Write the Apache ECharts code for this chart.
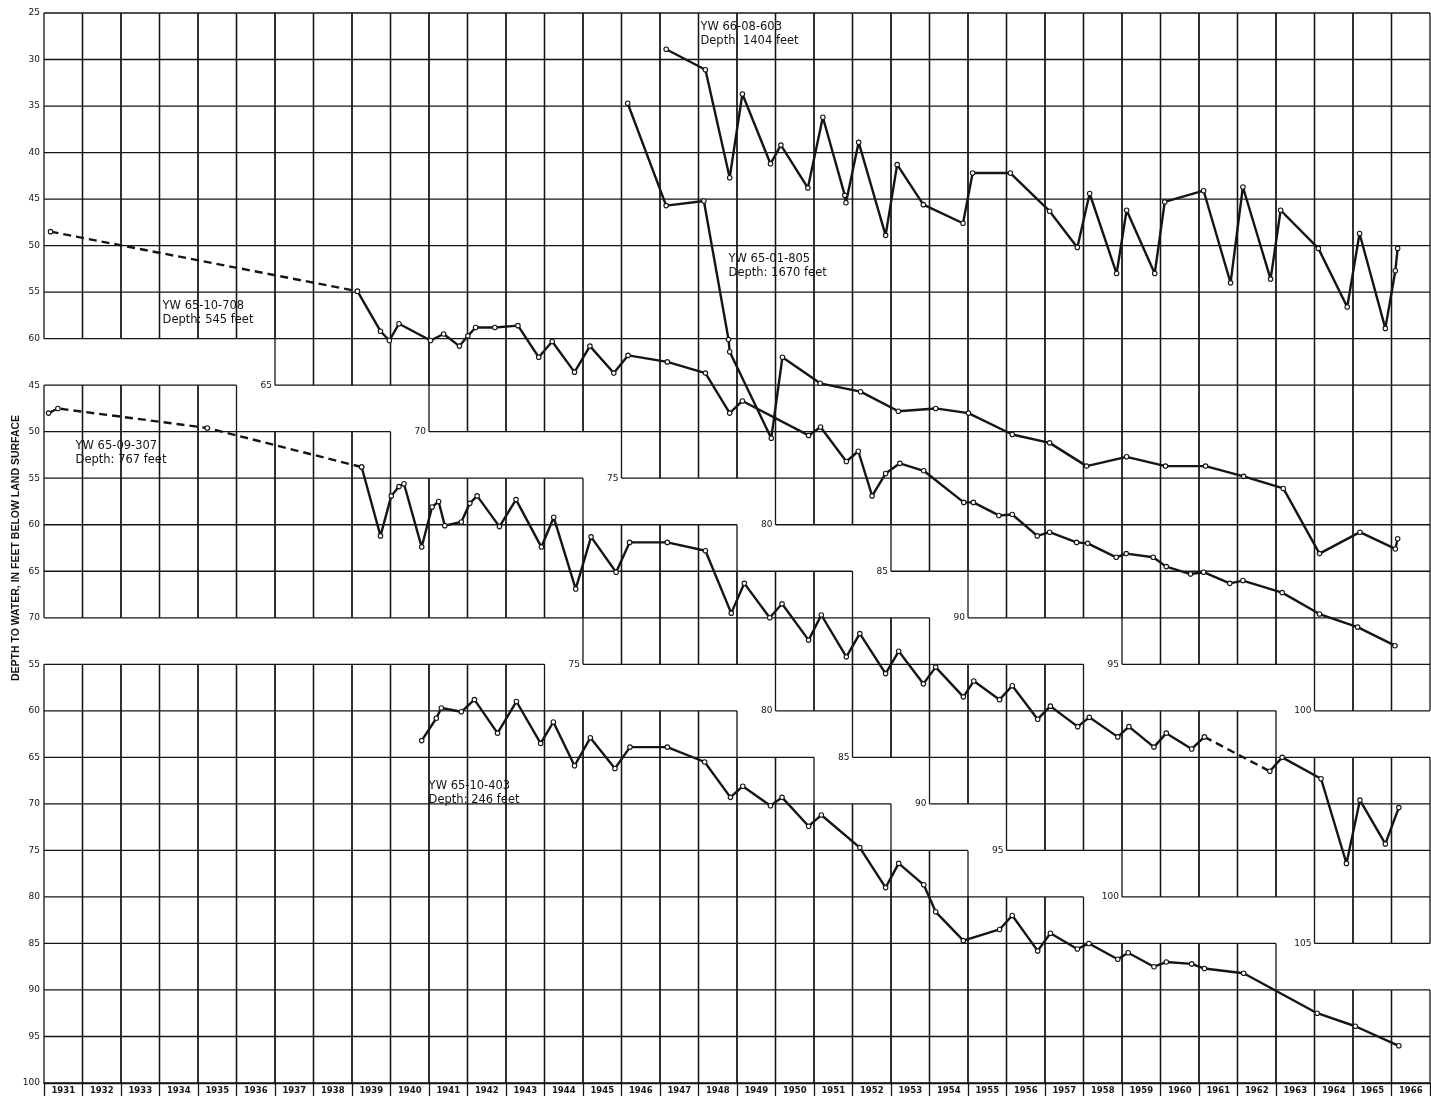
<!DOCTYPE html>
<html><head><meta charset="utf-8">
<script src="https://cdn.jsdelivr.net/npm/echarts@6/dist/echarts.min.js"></script>
<style>html,body{margin:0;padding:0;background:#fff;}#c{width:1431px;height:1096px;}</style>
</head><body><div id="c"></div>
<script>
// ---------------- DATA ----------------
const years = ['1931','1932','1933','1934','1935','1936','1937','1938','1939','1940','1941','1942',
  '1943','1944','1945','1946','1947','1948','1949','1950','1951','1952','1953','1954','1955','1956',
  '1957','1958','1959','1960','1961','1962','1963','1964','1965','1966'];

// Staircase of the three grid blocks (row index of boundary, per year column)
const aBottom = [7,7,7,7,7,7,8,8,8,8,9,9,9,9,9,10,10,10,10,11,11,11,12,12,13,13,13,13,14,14,14,14,14,15,15,15];
const bTop    = [8,8,8,8,8,9,9,9,9,10,10,10,10,10,11,11,11,11,12,12,12,13,13,14,14,14,14,15,15,15,15,15,16,16,16,16];
const bBottom = [13,13,13,13,13,13,13,13,13,13,13,13,13,13,14,14,14,14,14,15,15,16,16,17,17,18,18,18,19,19,19,19,19,20,20,20];
const cTop    = [14,14,14,14,14,14,14,14,14,14,14,14,14,15,15,15,15,15,16,16,17,17,18,18,19,19,19,20,20,20,20,20,21,21,21,21];

// Depth to water (feet) — each well read on its own scale (A: top, B: middle, C: bottom)
const well603 = [[1947.16,28.9],[1948.18,31.1],[1948.81,42.7],[1949.14,33.7],[1949.87,41.2],[1950.14,39.2],
  [1950.84,43.8],[1951.23,36.2],[1951.80,44.6],[1951.83,45.4],[1952.16,38.9],[1952.86,48.9],[1953.16,41.3],
  [1953.84,45.6],[1954.87,47.6],[1955.12,42.2],[1956.10,42.2],[1957.12,46.3],[1957.84,50.2],[1958.16,44.4],
  [1958.86,53.0],[1959.12,46.2],[1959.85,53.0],[1960.11,45.3],[1961.12,44.1],[1961.82,54.0],[1962.14,43.7],
  [1962.86,53.6],[1963.12,46.2],[1964.10,50.3],[1964.85,56.6],[1965.17,48.7],[1965.84,58.9],[1966.10,52.7],[1966.16,50.3]];

const well805 = [[1946.16,34.7],[1947.16,45.7],[1948.14,45.2],[1948.78,60.1],[1948.81,61.4],[1949.89,70.7],
  [1950.18,62.0],[1951.16,64.8],[1952.21,65.7],[1953.19,67.8],[1954.16,67.5],[1955.01,68.0],[1956.15,70.3],
  [1957.12,71.2],[1958.08,73.7],[1959.12,72.7],[1960.13,73.7],[1961.17,73.7],[1962.16,74.8],[1963.19,76.1],
  [1964.13,83.1],[1965.18,80.8],[1966.10,82.6],[1966.16,81.5]];

const well708Dashed = [[1931.17,48.5],[1939.14,54.9]];
const well708 = [[1939.14,54.9],[1939.74,59.2],[1939.97,60.2],[1940.22,58.4],[1941.04,60.2],[1941.38,59.5],
  [1941.79,60.8],[1942.01,59.7],[1942.21,58.8],[1942.71,58.8],[1943.31,58.6],[1943.85,62.0],[1944.20,60.3],
  [1944.78,63.6],[1945.18,60.8],[1945.80,63.7],[1946.17,61.8],[1947.19,62.5],[1948.18,63.7],[1948.81,68.0],
  [1949.14,66.7],[1950.86,70.4],[1951.17,69.5],[1951.84,73.2],[1952.15,72.1],[1952.51,76.9],[1952.86,74.5],
  [1953.23,73.4],[1953.85,74.2],[1954.89,77.6],[1955.14,77.6],[1955.80,79.0],[1956.15,78.9],[1956.80,81.2],
  [1957.12,80.8],[1957.82,81.9],[1958.11,82.0],[1958.85,83.5],[1959.11,83.1],[1959.81,83.5],[1960.15,84.5],
  [1960.78,85.3],[1961.12,85.1],[1961.80,86.3],[1962.14,86.0],[1963.16,87.3],[1964.13,89.6],[1965.12,91.0],[1966.09,93.0]];

const well307Dashed = [[1931.12,48.0],[1931.36,47.5],[1935.24,49.6],[1939.25,53.8]];
const well307 = [[1939.25,53.8],[1939.74,61.2],[1940.02,56.9],[1940.22,55.9],[1940.35,55.6],[1940.81,62.4],
  [1941.08,58.1],[1941.25,57.5],[1941.41,60.1],[1941.84,59.7],[1942.06,57.7],[1942.25,56.9],[1942.83,60.2],
  [1943.26,57.3],[1943.92,62.4],[1944.24,59.2],[1944.81,66.9],[1945.21,61.3],[1945.86,65.1],[1946.21,61.9],
  [1947.19,61.9],[1948.18,62.8],[1948.85,69.5],[1949.19,66.3],[1949.85,70.0],[1950.17,68.5],[1950.86,72.4],
  [1951.19,69.7],[1951.84,74.2],[1952.19,71.7],[1952.86,76.0],[1953.20,73.6],[1953.84,77.1],[1954.16,75.3],
  [1954.88,78.5],[1955.15,76.8],[1955.82,78.8],[1956.15,77.3],[1956.81,80.9],[1957.14,79.5],[1957.85,81.7],
  [1958.15,80.7],[1958.89,82.8],[1959.18,81.7],[1959.83,83.9],[1960.15,82.4],[1960.81,84.1],[1961.14,82.8]];
const well307Dashed2 = [[1961.14,82.8],[1962.84,86.5]];
const well307Late = [[1962.84,86.5],[1963.16,85.0],[1964.17,87.3],[1964.83,96.4],[1965.18,89.6],[1965.84,94.3],[1966.19,90.4]];

const well403 = [[1940.81,63.2],[1941.19,60.8],[1941.32,59.7],[1941.84,60.1],[1942.18,58.8],[1942.78,62.4],
  [1943.27,59.0],[1943.90,63.5],[1944.23,61.2],[1944.78,65.9],[1945.19,62.9],[1945.83,66.2],[1946.22,63.9],
  [1947.19,63.9],[1948.16,65.5],[1948.83,69.3],[1949.15,68.1],[1949.87,70.2],[1950.17,69.3],[1950.86,72.4],
  [1951.19,71.2],[1952.19,74.7],[1952.86,79.0],[1953.20,76.4],[1953.85,78.7],[1954.16,81.6],[1954.88,84.7],
  [1955.82,83.5],[1956.15,82.0],[1956.81,85.8],[1957.14,83.9],[1957.84,85.6],[1958.14,85.0],[1958.89,86.7],
  [1959.16,86.0],[1959.83,87.5],[1960.15,87.0],[1960.81,87.2],[1961.14,87.7],[1962.16,88.2],[1964.07,92.5],
  [1965.06,93.9],[1966.19,96.0]];

const wellNames  = ['YW 66-08-603','YW 65-01-805','YW 65-10-708','YW 65-09-307','YW 65-10-403'];
const wellDepths = ['Depth: 1404 feet','Depth: 1670 feet','Depth: 545 feet','Depth: 767 feet','Depth: 246 feet'];
const yTitle = 'DEPTH TO WATER, IN FEET BELOW LAND SURFACE';

// ---------------- SCALES ----------------
// plotting axis runs in "virtual feet" (5 per grid row); each block has its own label base
const BASE = {A: 25, B: 5, C: -15};
const toV = (arr, s) => arr.map(p => [p[0], p[1] - BASE[s]]);
function labelFor(u) { const r = Math.round(u / 5); return String(u + (r <= 7 ? BASE.A : r <= 13 ? BASE.B : BASE.C)); }

// annotation placement (axis units: year, virtual feet)
const notePos = [[1948.05, 1.5], [1948.78, 26.4], [1934.08, 31.5], [1931.82, 46.5], [1940.99, 83.1]];

const INK = '#151515';
const FONT = 'DejaVu Sans';

function gridRender(params, api) {
  const ch = [];
  const colX = c => api.coord([1931 + c, 0])[0];
  const rowY = r => api.coord([1931, r * 5])[1];
  const st = {stroke: INK, lineWidth: 1.3, fill: null};
  const L = (x1, y1, x2, y2) => ch.push({type: 'line', shape: {x1, y1, x2, y2}, style: st, silent: true});
  for (let c = 0; c < years.length; c++) {
    const x0 = colX(c), x1 = colX(c + 1);
    [[0, aBottom[c]], [bTop[c], bBottom[c]], [cTop[c], 23]].forEach(([r0, r1]) => {
      L(x0, rowY(r0), x0, rowY(r1));
      L(x1, rowY(r0), x1, rowY(r1));
      for (let r = r0; r <= r1; r++) L(x0, rowY(r), x1, rowY(r));
    });
  }
  const stepLabel = (arr, base) => {
    for (let c = 1; c < arr.length; c++) {
      if (arr[c] > arr[c - 1]) {
        ch.push({type: 'text', x: colX(c) - 3, y: rowY(arr[c]), silent: true,
          style: {text: String(arr[c] * 5 + base), fill: INK, font: '9px "' + FONT + '"', align: 'right', verticalAlign: 'middle'}});
      }
    }
  };
  stepLabel(aBottom, BASE.A);
  stepLabel(bBottom, BASE.B);
  return {type: 'group', children: ch};
}

function noteRender(params, api) {
  const i = params.dataIndex;
  const p = api.coord([api.value(0), api.value(1)]);
  const f = '11.5px "' + FONT + '"';
  return {type: 'group', children: [
    {type: 'text', x: p[0], y: p[1], style: {text: wellNames[i], fill: INK, font: f, align: 'left', verticalAlign: 'middle'}},
    {type: 'text', x: p[0], y: p[1] + 14, style: {text: wellDepths[i], fill: INK, font: f, align: 'left', verticalAlign: 'middle'}}
  ]};
}

const lineBase = {type: 'line', xAxisIndex: 0, yAxisIndex: 0, z: 5, silent: true, animation: false,
  symbol: 'circle', symbolSize: 4.5, itemStyle: {color: '#fff', borderColor: INK, borderWidth: 1.1}};
const solid = (d) => Object.assign({}, lineBase, {data: d, lineStyle: {color: INK, width: 2.4}});
const dashed = (d, sym) => Object.assign({}, lineBase, {data: d, showSymbol: sym, lineStyle: {color: INK, width: 2.4, type: [8, 5]}});

const chart = echarts.init(document.getElementById('c'));
chart.setOption({
  animation: false,
  backgroundColor: '#fff',
  grid: {left: 44, right: 1, top: 13, bottom: 13, containLabel: false, outerBoundsMode: 'none'},
  xAxis: [
    {type: 'value', min: 1931, max: 1967, show: false},
    {type: 'category', data: years, boundaryGap: true, position: 'bottom',
      axisLine: {show: true, lineStyle: {color: INK, width: 1.3}},
      axisTick: {show: true, interval: 0, length: 13, lineStyle: {color: INK, width: 1.3}},
      axisLabel: {interval: 0, fontSize: 8.5, fontWeight: 'bold', color: INK, margin: 3, fontFamily: FONT},
      splitLine: {show: false}}
  ],
  yAxis: {type: 'value', inverse: true, min: 0, max: 115, interval: 5,
    axisLine: {show: false}, axisTick: {show: false}, splitLine: {show: false},
    axisLabel: {formatter: labelFor, fontSize: 9, color: INK, margin: 4, fontFamily: FONT, showMinLabel: true, showMaxLabel: true},
    name: yTitle, nameLocation: 'middle', nameRotate: 90, nameGap: 22, nameMoveOverlap: false,
    nameTextStyle: {fontSize: 10.5, fontWeight: 'bold', color: INK, fontFamily: 'Liberation Sans'}},
  series: [
    {type: 'custom', xAxisIndex: 0, yAxisIndex: 0, data: [[1931, 0]], renderItem: gridRender, clip: false, silent: true, z: 1},
    solid(toV(well603, 'A')),
    solid(toV(well805, 'A')),
    dashed(toV(well708Dashed, 'A'), true),
    solid(toV(well708, 'A')),
    dashed(toV(well307Dashed, 'B'), true),
    solid(toV(well307, 'B')),
    dashed(toV(well307Dashed2, 'B'), false),
    solid(toV(well307Late, 'B')),
    solid(toV(well403, 'C')),
    {type: 'custom', xAxisIndex: 0, yAxisIndex: 0, data: notePos, renderItem: noteRender, clip: false, silent: true, z: 6}
  ]
});
</script></body></html>
